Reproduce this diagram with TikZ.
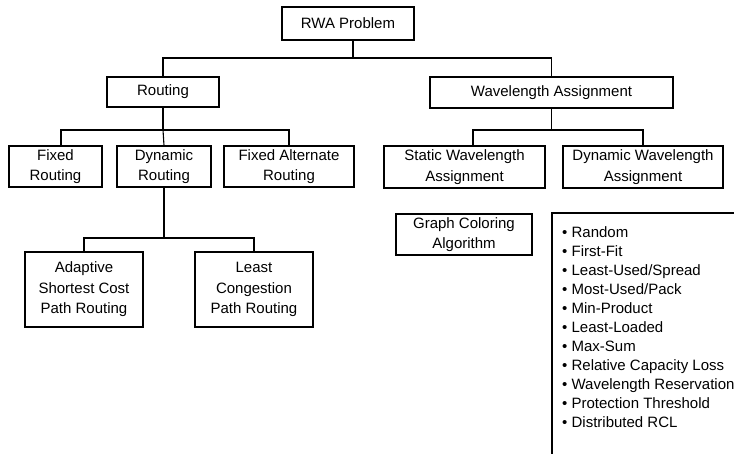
\documentclass[tikz,border=0pt]{standalone}
\usepackage{fontspec}
\setmainfont{Liberation Sans}
\begin{document}
\begin{tikzpicture}[x=1pt,y=-1pt,
  box/.style={draw,line width=1.1pt,inner sep=0pt,align=center,
    font=\fontsize{15}{20.5}\selectfont},
  link/.style={line width=1.1pt},
  item/.style={anchor=base west,inner sep=0pt,font=\fontsize{15}{19}\selectfont}]
\useasboundingbox (0,0) rectangle (734,454);

% top level
\node[box,minimum width=132pt,minimum height=33pt] (rwa) at (348,23.5) {RWA Problem};
\node[box,minimum width=112pt,minimum height=30pt] (routing) at (163,92) {Routing};
\node[box,minimum width=243pt,minimum height=31pt] (wa) at (551.5,92.5) {Wavelength Assignment};

% routing branch
\node[box,minimum width=93pt,minimum height=41pt] (fixed) at (55.5,166.5) {Fixed\\Routing};
\node[box,minimum width=94pt,minimum height=41pt] (dyn) at (164,166.5) {Dynamic\\Routing};
\node[box,minimum width=130pt,minimum height=41pt] (fixalt) at (289,166.5) {Fixed Alternate\\Routing};
\node[box,minimum width=118pt,minimum height=75pt] (adaptive) at (84,289.5) {Adaptive\\Shortest Cost\\Path Routing};
\node[box,minimum width=118pt,minimum height=75pt] (leastcong) at (254,289.5) {Least\\Congestion\\Path Routing};

% wavelength assignment branch
\node[box,minimum width=161pt,minimum height=42pt] (static) at (464.5,167) {Static Wavelength\\Assignment};
\node[box,minimum width=160pt,minimum height=42pt] (dynwa) at (643,167) {Dynamic Wavelength\\Assignment};
\node[box,minimum width=136pt,minimum height=41pt] (gc) at (464,234.5) {Graph Coloring\\Algorithm};

% connectors (some drops sit a little right of their box centres)
\draw[link] ([xshift=5pt]rwa.south) -- ([xshift=5pt]rwa.south |- 0,58) coordinate (topbus);
\draw[link] (routing.north) |- (topbus) -| (wa.north);
\draw[link] (routing.south) -- (routing.south |- 0,130) coordinate (rbus);
\draw[link] ([xshift=5.5pt]fixed.north) |- (rbus) -| (fixalt.north);
\draw[link] (rbus) -- (dyn.north);
\draw[link] (dyn.south) -- (dyn.south |- 0,238) coordinate (dbus);
\draw[link] (adaptive.north) |- (dbus) -| (leastcong.north);
\draw[link] (wa.south) -- (wa.south |- 0,130) coordinate (wbus);
\draw[link] ([xshift=8.5pt]static.north) |- (wbus) -| (dynwa.north);

% list of dynamic assignment heuristics
\coordinate (lcorner) at (552,213);
\draw[link] (734,213) -- (lcorner) -- (552,454);
\foreach \t [count=\i from 0] in {Random,First-Fit,Least-Used/Spread,Most-Used/Pack,
  Min-Product,Least-Loaded,Max-Sum,Relative Capacity Loss,Wavelength Reservation,
  Protection Threshold,Distributed RCL}
  \node[item] (item\i) at (562,{237.5+19*\i}) {• \t};
\end{tikzpicture}
\end{document}
